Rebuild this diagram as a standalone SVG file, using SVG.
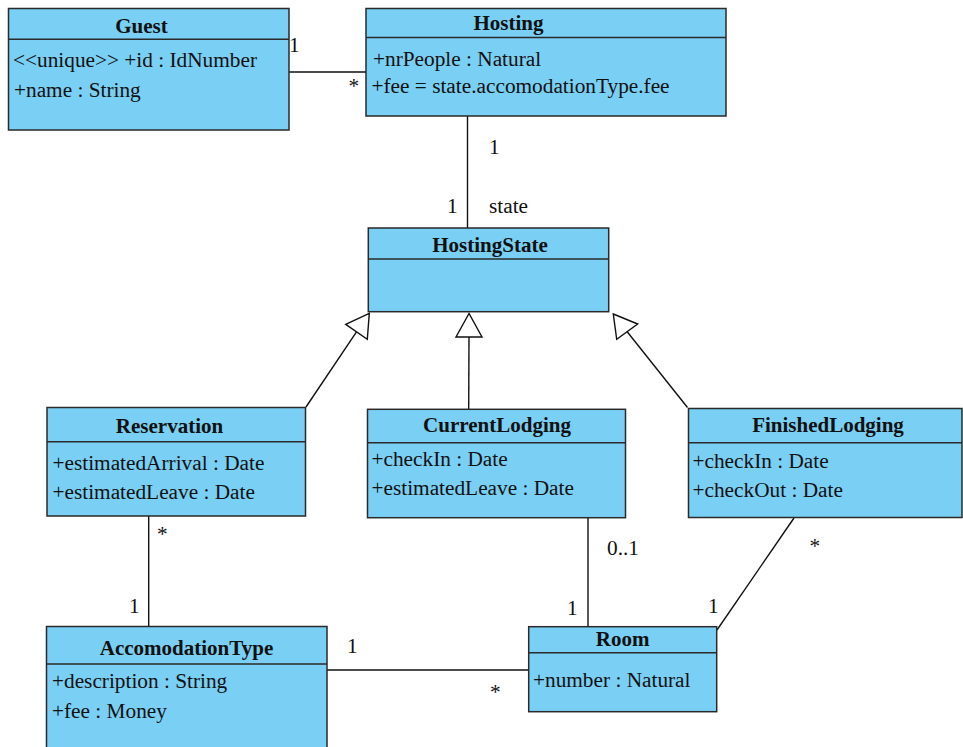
<svg xmlns="http://www.w3.org/2000/svg" width="963" height="747" viewBox="0 0 963 747">
<style>
.box{fill:#7ACFF4;stroke:#2a2a2a;stroke-width:1.5}
.div{stroke:#2a2a2a;stroke-width:1.5}
.t{font-family:"Liberation Serif","Times New Roman",serif;font-size:21.3px;fill:#111}
.b{font-weight:bold;text-anchor:middle;font-size:21px}
.ln{stroke:#111;stroke-width:1.4;fill:none}
.tri{fill:#fff;stroke:#111;stroke-width:1.4}
</style>
<rect width="963" height="747" fill="#fff"/>
<g id="connectors">
<line class="ln" x1="289" y1="72" x2="366" y2="72"/>
<line class="ln" x1="467.5" y1="116" x2="467.5" y2="228"/>
<line class="ln" x1="306" y1="407" x2="356.5" y2="331.8"/>
<polygon class="tri" points="369.3,313.3 345.7,324.3 367.3,339.3"/>
<line class="ln" x1="468.7" y1="409" x2="469" y2="337"/>
<polygon class="tri" points="469,313.5 456,337 482,337"/>
<line class="ln" x1="687.5" y1="407.5" x2="627.2" y2="331.7"/>
<polygon class="tri" points="613.3,314 637.7,324 616.7,339.3"/>
<line class="ln" x1="148.7" y1="516" x2="148.7" y2="626"/>
<line class="ln" x1="588" y1="517.7" x2="588" y2="626.7"/>
<line class="ln" x1="794" y1="518" x2="717" y2="630"/>
<line class="ln" x1="327" y1="670" x2="529" y2="670"/>
<text class="t" x="289" y="52">1</text>
<text class="t" x="348.5" y="93">*</text>
<text class="t" x="489" y="154">1</text>
<text class="t" x="447" y="213">1</text>
<text class="t" x="489" y="213">state</text>
<text class="t" x="157" y="541">*</text>
<text class="t" x="129" y="613">1</text>
<text class="t" x="607" y="555">0..1</text>
<text class="t" x="567" y="615">1</text>
<text class="t" x="809.5" y="553">*</text>
<text class="t" x="708" y="613">1</text>
<text class="t" x="347" y="653">1</text>
<text class="t" x="490" y="699">*</text>
</g>
<g id="Guest">
<rect class="box" x="8.5" y="8.5" width="280.5" height="121.5"/>
<line class="div" x1="8.5" y1="39.3" x2="289" y2="39.3"/>
<text class="t b" x="141.5" y="33">Guest</text>
<text class="t" x="13" y="67">&lt;&lt;unique&gt;&gt; +id : IdNumber</text>
<text class="t" x="14" y="97">+name : String</text>
</g>
<g id="Hosting">
<rect class="box" x="366" y="8.5" width="360" height="107.5"/>
<line class="div" x1="366" y1="37.5" x2="726" y2="37.5"/>
<text class="t b" x="508.5" y="29.5">Hosting</text>
<text class="t" x="373" y="65.5">+nrPeople : Natural</text>
<text class="t" x="371.5" y="93">+fee = state.accomodationType.fee</text>
</g>
<g id="HostingState">
<rect class="box" x="368.3" y="228" width="240.4" height="83.7"/>
<line class="div" x1="368.3" y1="259" x2="608.7" y2="259"/>
<text class="t b" x="490" y="251.5">HostingState</text>
</g>
<g id="Reservation">
<rect class="box" x="47" y="407.5" width="258.5" height="108.5"/>
<line class="div" x1="47" y1="441.7" x2="305.5" y2="441.7"/>
<text class="t b" x="169.5" y="432.7">Reservation</text>
<text class="t" x="52.5" y="470">+estimatedArrival : Date</text>
<text class="t" x="52.5" y="498.5">+estimatedLeave : Date</text>
</g>
<g id="CurrentLodging">
<rect class="box" x="367.5" y="409.3" width="258" height="108.4"/>
<line class="div" x1="367.5" y1="442.7" x2="625.5" y2="442.7"/>
<text class="t b" x="497" y="432.3">CurrentLodging</text>
<text class="t" x="371.5" y="465.5">+checkIn : Date</text>
<text class="t" x="371.5" y="495">+estimatedLeave : Date</text>
</g>
<g id="FinishedLodging">
<rect class="box" x="688.5" y="408.5" width="273.5" height="109"/>
<line class="div" x1="688.5" y1="442.7" x2="962" y2="442.7"/>
<text class="t b" x="828" y="431.7">FinishedLodging</text>
<text class="t" x="692.5" y="468">+checkIn : Date</text>
<text class="t" x="692.5" y="496.5">+checkOut : Date</text>
</g>
<g id="AccomodationType">
<rect class="box" x="46.5" y="626.5" width="280.5" height="135"/>
<line class="div" x1="46.5" y1="664" x2="327" y2="664"/>
<text class="t b" x="186.5" y="655">AccomodationType</text>
<text class="t" x="52" y="687.5">+description : String</text>
<text class="t" x="52" y="718">+fee : Money</text>
</g>
<g id="Room">
<rect class="box" x="528.7" y="626.7" width="188" height="85"/>
<line class="div" x1="528.7" y1="652.7" x2="716.7" y2="652.7"/>
<text class="t b" x="622.7" y="646">Room</text>
<text class="t" x="533" y="687">+number : Natural</text>
</g>
</svg>
